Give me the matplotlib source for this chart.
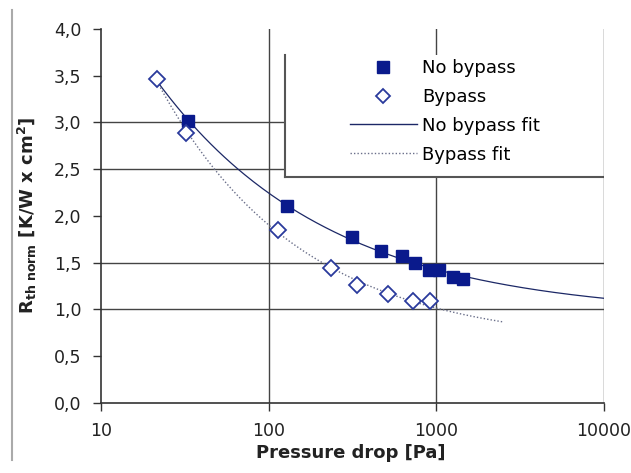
import numpy as np
import matplotlib
matplotlib.use("Agg")
import matplotlib.pyplot as plt
from matplotlib.lines import Line2D
from matplotlib.patches import Rectangle
from matplotlib.ticker import FixedLocator, FuncFormatter

plt.rcParams['font.family'] = ['DejaVu Sans']

nobypass_dp = [33, 129, 315, 469, 625, 747, 908, 1042, 1262, 1449]
nobypass_r = [3.01, 2.11, 1.77, 1.63, 1.57, 1.50, 1.42, 1.42, 1.35, 1.33]
bypass_dp = [21.6, 32, 114, 236, 337, 515, 722, 916]
bypass_r = [3.46, 2.89, 1.85, 1.44, 1.26, 1.16, 1.09, 1.09]

# points (first and last = curve ends)
nobypass_fit_dp = [21.6, 33, 129, 315, 1000, 10000]
nobypass_fit_r = [3.46, 3.00, 2.11, 1.76, 1.42, 1.12]
bypass_fit_dp = [21.6, 32, 114, 236, 515, 1000, 2480]
bypass_fit_r = [3.46, 2.89, 1.87, 1.45, 1.15, 1.00, 0.88]

x_ticks = [10, 100, 1000, 10000]
y_ticks = [0.0, 0.5, 1.0, 1.5, 2.0, 2.5, 3.0, 3.5, 4.0]
x_grid = [100, 1000, 10000]
y_grid = [1.0, 1.5, 2.5, 3.0]

navy = '#0a1a8c'
diamond_col = '#2a3a9c'
fit1_col = '#1c2866'
fit2_col = '#6a6f8a'


def smooth_fit(x, y):
    # y = c + a * x**b, c by scan, a and b by log-log least squares
    x = np.asarray(x, float)
    y = np.asarray(y, float)
    best = None
    for c in np.linspace(0, y.min() - 0.02, 400):
        b, la = np.polyfit(np.log(x), np.log(y - c), 1)
        err = np.sum((y - (c + np.exp(la) * x ** b)) ** 2)
        if best is None or err < best[0]:
            best = (err, c, np.exp(la), b)
    _, c, a, b = best
    xx = np.logspace(np.log10(x[0]), np.log10(x[-1]), 200)
    return xx, c + a * xx ** b


fig = plt.figure(figsize=(6.31, 4.73), dpi=100)
ax = fig.add_axes([0.160, 0.148, 0.797, 0.791])

ax.set_xscale('log')
ax.set_xlim(10, 10000)
ax.set_ylim(0, 4)

for gx in x_grid:
    ax.axvline(gx, color='#444444', lw=1.0, zorder=1 if gx < 10000 else 2.5)
for gy in y_grid:
    ax.axhline(gy, color='#444444', lw=1.0, zorder=1)

xx1, yy1 = smooth_fit(nobypass_fit_dp, nobypass_fit_r)
ax.plot(xx1, yy1, color=fit1_col, lw=0.9, zorder=3)
xx2, yy2 = smooth_fit(bypass_fit_dp, bypass_fit_r)
ax.plot(xx2, yy2, color=fit2_col, lw=1.0, ls=(0, (1, 1.5)), zorder=3)

ax.plot(nobypass_dp, nobypass_r, 's', color=navy, ms=8, zorder=4)
ax.plot(bypass_dp, bypass_r, 'D', mfc='white', mec=diamond_col, mew=1.3, ms=8, zorder=5)

# legend box, only left and bottom edges visible
lx0, ly0, ly1 = 0.366, 0.603, 0.930
ax.add_patch(Rectangle((lx0, ly0), 1 - lx0, ly1 - ly0, transform=ax.transAxes,
                       facecolor='white', edgecolor='none', zorder=2))
ax.add_line(Line2D([lx0, lx0], [ly0, ly1], transform=ax.transAxes, color='#555555', lw=1.5, zorder=2))
ax.add_line(Line2D([lx0, 1], [ly0, ly0], transform=ax.transAxes, color='#555555', lw=1.5, zorder=2))

handles = [
    Line2D([], [], ls='none', marker='s', color=navy, ms=8),
    Line2D([], [], ls='none', marker='D', mfc='white', mec=diamond_col, mew=1.3, ms=7),
    Line2D([], [], color=fit1_col, lw=1.0),
    Line2D([], [], color=fit2_col, lw=1.0, ls=(0, (1, 1.5))),
]
labels = ['No bypass', 'Bypass', 'No bypass fit', 'Bypass fit']
fig.legend(handles, labels, loc='upper left', bbox_to_anchor=(350 / 631, 1 - 59 / 473),
           bbox_transform=fig.transFigure, frameon=False, borderpad=0, borderaxespad=0,
           handlelength=3.7, handletextpad=0.3, labelspacing=0.6, fontsize=13)

ax.xaxis.set_major_locator(FixedLocator(x_ticks))
ax.xaxis.set_minor_locator(FixedLocator([]))
ax.set_xticklabels([str(t) for t in x_ticks])
ax.yaxis.set_major_locator(FixedLocator(y_ticks))
ax.yaxis.set_major_formatter(FuncFormatter(lambda v, p: ('%.1f' % v).replace('.', ',')))
ax.tick_params(direction='out', length=6, width=1.0, color='#333333', labelsize=12.5,
               labelcolor='#222222')
ax.tick_params(axis='x', pad=8)
ax.tick_params(axis='y', pad=8)

ax.spines['top'].set_visible(False)
ax.spines['right'].set_visible(False)
ax.spines['left'].set_color('#333333')
ax.spines['bottom'].set_color('#333333')
ax.spines['left'].set_linewidth(1.2)
ax.spines['bottom'].set_linewidth(1.2)

ax.set_ylabel(r'R$_{\mathregular{th\ norm}}$ [K/W x cm$^{\mathregular{2}}$]', fontsize=13,
              fontweight='bold', color='#222222')
ax.yaxis.set_label_coords((39 - 101) / 503, 0.5)
fig.text(351 / 631, 1 - 453 / 473, 'Pressure drop [Pa]', fontsize=13, fontweight='bold',
         ha='center', va='center', color='#222222')

# frame line on the left of the screenshot
fig.add_artist(Line2D([12 / 631, 12 / 631], [13 / 473, 1 - 10 / 473], color='#aaaaaa', lw=1.5))

fig.savefig('out.png', dpi=100)
